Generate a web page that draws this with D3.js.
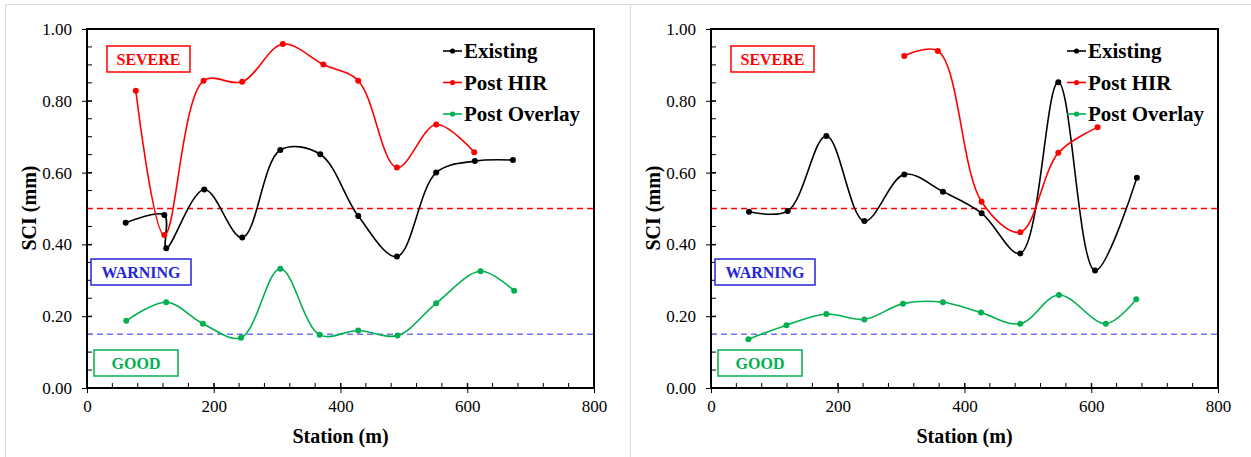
<!DOCTYPE html>
<html>
<head>
<meta charset="utf-8">
<script src="https://cdn.jsdelivr.net/npm/d3@7"></script>
<style>
  body { margin: 0; background: #fff; }
  text { font-family: 'Liberation Serif', 'DejaVu Serif', serif; }
</style>
</head>
<body>
<svg id="chart" width="1251" height="457"></svg>
<script>
// ---- data ----
var xTicks = [0, 200, 400, 600, 800];
var yTicks = [0, 0.2, 0.4, 0.6, 0.8, 1.0];
var severeLimit = 0.5, goodLimit = 0.15;
var seriesNames = ["Existing", "Post HIR", "Post Overlay"];
var seriesColors = ["#000000", "#ff0000", "#00b050"];

// left panel
var leftExistingX = [61, 122, 125, 185, 245, 305, 368, 428, 489, 551, 612, 672];
var leftExistingY = [0.460, 0.482, 0.389, 0.553, 0.419, 0.663, 0.651, 0.479, 0.366, 0.600, 0.632, 0.635];
var leftHirX = [77, 122, 184, 245, 309, 373, 428, 489, 551, 611];
var leftHirY = [0.828, 0.426, 0.856, 0.853, 0.958, 0.901, 0.856, 0.614, 0.734, 0.657];
var leftOverlayX = [62, 125, 183, 243, 305, 367, 428, 490, 551, 621, 674];
var leftOverlayY = [0.187, 0.239, 0.179, 0.140, 0.332, 0.148, 0.160, 0.146, 0.236, 0.325, 0.271];

// right panel
var rightExistingX = [60, 121, 182, 242, 305, 366, 427, 488, 548, 606, 672];
var rightExistingY = [0.491, 0.493, 0.702, 0.465, 0.595, 0.547, 0.487, 0.375, 0.852, 0.327, 0.586];
var rightHirX = [305, 358, 427, 488, 548, 610];
var rightHirY = [0.925, 0.939, 0.519, 0.434, 0.655, 0.726];
var rightOverlayX = [59, 119, 182, 242, 303, 366, 426, 488, 549, 623, 671];
var rightOverlayY = [0.136, 0.175, 0.206, 0.191, 0.235, 0.239, 0.210, 0.179, 0.259, 0.179, 0.247];

var serif = "'Liberation Serif', 'DejaVu Serif', serif";
var svg = d3.select("#chart");

// panel borders
svg.append("path")
  .attr("d", "M5.5,457V4.5H1251M630.5,4.5V457")
  .attr("fill", "none").attr("stroke", "#d9d9d9").attr("stroke-width", 1);

function zip(xs, ys) { return xs.map(function(x, i) { return [x, ys[i]]; }); }

function drawPanel(x0, x1, series) {
  var x = d3.scaleLinear().domain([0, 800]).range([x0, x1]);
  var y = d3.scaleLinear().domain([0, 1]).range([388, 29]);
  var g = svg.append("g");

  // minor ticks (inside)
  var xMinor = d3.range(0, 801, 40);
  var yMinor = d3.range(0, 1.0001, 0.05);
  g.selectAll(".xm").data(xMinor).enter().append("line")
    .attr("x1", function(d) { return x(d); }).attr("x2", function(d) { return x(d); })
    .attr("y1", 388).attr("y2", 383).attr("stroke", "#000").attr("stroke-width", 1);
  g.selectAll(".ym").data(yMinor).enter().append("line")
    .attr("y1", function(d) { return y(d); }).attr("y2", function(d) { return y(d); })
    .attr("x1", x0).attr("x2", x0 + 5).attr("stroke", "#000").attr("stroke-width", 1);

  // major ticks and labels
  var xAxis = g.append("g").attr("transform", "translate(0,388)")
    .call(d3.axisBottom(x).tickValues(xTicks).tickSize(5).tickFormat(d3.format("d")));
  xAxis.attr("font-family", serif).attr("font-size", 17);
  xAxis.select(".domain").remove();
  xAxis.selectAll(".tick line").attr("y1", -5).attr("y2", 5).attr("stroke-width", 1);
  xAxis.selectAll("text").attr("y", 12).attr("dy", "0.71em").attr("fill", "#000");

  var yAxis = g.append("g").attr("transform", "translate(" + x0 + ",0)")
    .call(d3.axisLeft(y).tickValues(yTicks).tickSize(5).tickFormat(d3.format(".2f")));
  yAxis.attr("font-family", serif).attr("font-size", 17);
  yAxis.select(".domain").remove();
  yAxis.selectAll(".tick line").attr("x1", -5).attr("x2", 5).attr("stroke-width", 1);
  yAxis.selectAll("text").attr("x", -15).attr("fill", "#000");

  // limit lines
  g.append("line").attr("x1", x0).attr("x2", x1)
    .attr("y1", y(severeLimit)).attr("y2", y(severeLimit))
    .attr("stroke", "#ff0000").attr("stroke-width", 1.5).attr("stroke-dasharray", "6,4");
  g.append("line").attr("x1", x0).attr("x2", x1)
    .attr("y1", y(goodLimit)).attr("y2", y(goodLimit))
    .attr("stroke", "#7474f0").attr("stroke-width", 1.5).attr("stroke-dasharray", "6,4");

  // label boxes
  var boxes = [
    {t: "SEVERE", c: "#ff0000", x: 20, y: 46, w: 83},
    {t: "WARNING", c: "#2626d9", x: 4, y: 259, w: 100},
    {t: "GOOD", c: "#00b050", x: 7, y: 350, w: 84}
  ];
  boxes.forEach(function(b) {
    g.append("rect").attr("x", x0 + b.x).attr("y", b.y).attr("width", b.w).attr("height", 26)
      .attr("fill", "#fff").attr("stroke", b.c).attr("stroke-width", 1.5);
    g.append("text").attr("x", x0 + b.x + b.w / 2).attr("y", b.y + 19)
      .attr("text-anchor", "middle").attr("fill", b.c)
      .attr("font-family", serif).attr("font-size", 16).attr("font-weight", "bold").text(b.t);
  });

  // series
  var line = d3.line()
    .x(function(d) { return x(d[0]); })
    .y(function(d) { return y(d[1]); })
    .curve(d3.curveCatmullRom.alpha(0.5));
  series.forEach(function(s, i) {
    g.append("path").datum(s).attr("d", line)
      .attr("fill", "none").attr("stroke", seriesColors[i]).attr("stroke-width", 1.6);
    g.selectAll(".pt" + i).data(s).enter().append("circle")
      .attr("cx", function(d) { return x(d[0]); })
      .attr("cy", function(d) { return y(d[1]); })
      .attr("r", 3).attr("fill", seriesColors[i]);
  });

  // frame
  g.append("rect").attr("x", x0).attr("y", 29).attr("width", x1 - x0).attr("height", 359)
    .attr("fill", "none").attr("stroke", "#000").attr("stroke-width", 2);

  // legend
  var lx = x0 + 356;
  seriesNames.forEach(function(n, i) {
    var ly = 51 + i * 31.5;
    g.append("line").attr("x1", lx).attr("x2", lx + 19).attr("y1", ly).attr("y2", ly)
      .attr("stroke", seriesColors[i]).attr("stroke-width", 1.6);
    g.append("circle").attr("cx", lx + 9.5).attr("cy", ly).attr("r", 2.6).attr("fill", seriesColors[i]);
    g.append("text").attr("x", lx + 21).attr("y", ly + 7).attr("fill", "#000")
      .attr("font-family", serif).attr("font-size", 21).attr("font-weight", "bold").text(n);
  });

  // axis titles
  svg.append("text").attr("x", (x0 + x1) / 2).attr("y", 443).attr("text-anchor", "middle")
    .attr("font-family", serif).attr("font-size", 20).attr("font-weight", "bold").text("Station (m)");
  svg.append("text").attr("transform", "translate(" + (x0 - 51) + ",208) rotate(-90)")
    .attr("text-anchor", "middle")
    .attr("font-family", serif).attr("font-size", 20).attr("font-weight", "bold").text("SCI (mm)");
}

drawPanel(87, 594, [zip(leftExistingX, leftExistingY), zip(leftHirX, leftHirY), zip(leftOverlayX, leftOverlayY)]);
drawPanel(711, 1218, [zip(rightExistingX, rightExistingY), zip(rightHirX, rightHirY), zip(rightOverlayX, rightOverlayY)]);
</script>
</body>
</html>
